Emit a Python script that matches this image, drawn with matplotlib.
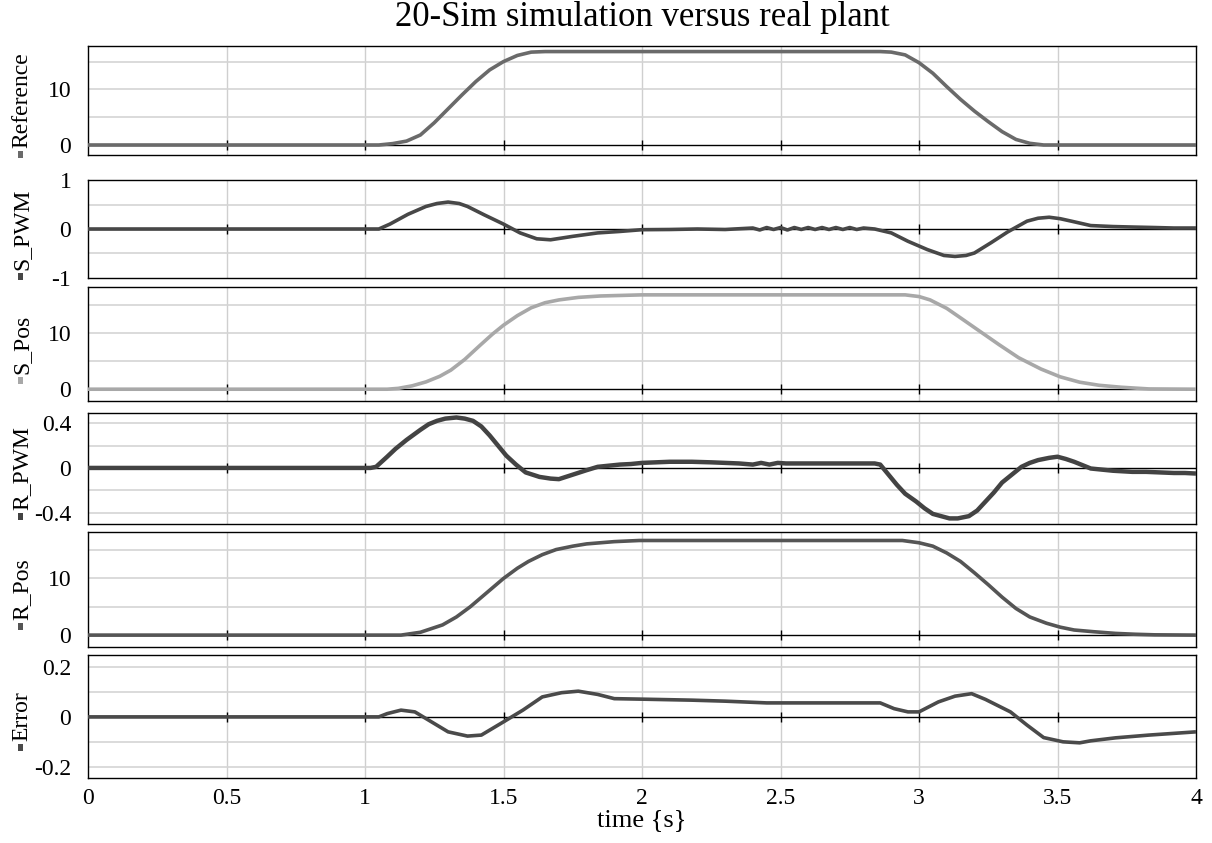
import numpy as np
import matplotlib
matplotlib.use("Agg")
import matplotlib.pyplot as plt
from matplotlib.patches import Rectangle

# ---------------- data ----------------
t_ref = [0.0, 1.00, 1.05, 1.10, 1.15, 1.20, 1.25, 1.30, 1.35, 1.40, 1.45, 1.50, 1.55, 1.60, 1.65,
         2.86, 2.90, 2.95, 3.00, 3.05, 3.10, 3.15, 3.20, 3.25, 3.30, 3.35, 3.40, 3.45, 4.0]
v_ref = [0.0, 0.0, 0.0, 0.25, 0.7, 1.8, 4.0, 6.5, 9.0, 11.4, 13.5, 15.0, 16.1, 16.7, 16.8,
         16.8, 16.7, 16.2, 14.8, 12.9, 10.5, 8.2, 6.1, 4.2, 2.4, 1.0, 0.3, 0.0, 0.0]

t_spwm = [0.0, 1.00, 1.05, 1.09, 1.155, 1.22, 1.26, 1.30, 1.34, 1.37, 1.43, 1.50, 1.56, 1.62, 1.67,
          1.75, 1.84, 1.92, 2.00, 2.10, 2.20, 2.30, 2.40, 2.425, 2.45, 2.475, 2.50, 2.525, 2.55, 2.575,
          2.60, 2.625, 2.65, 2.675, 2.70, 2.725, 2.75, 2.775, 2.80, 2.84, 2.90, 2.96, 3.03, 3.09,
          3.13, 3.17, 3.20, 3.26, 3.32, 3.39, 3.43, 3.47, 3.51, 3.55, 3.62, 3.70, 3.77, 3.85, 3.92, 4.0]
v_spwm = [0.0, 0.0, 0.0, 0.1, 0.3, 0.46, 0.52, 0.55, 0.52, 0.46, 0.29, 0.1, -0.08, -0.2, -0.22,
          -0.15, -0.08, -0.05, -0.014, -0.01, 0.0, -0.01, 0.02, -0.02, 0.03, -0.01, 0.03, -0.02, 0.03, -0.01,
          0.03, -0.01, 0.03, -0.01, 0.03, -0.01, 0.03, -0.01, 0.02, 0.0, -0.08, -0.25, -0.42, -0.54,
          -0.56, -0.54, -0.49, -0.28, -0.06, 0.16, 0.22, 0.24, 0.21, 0.16, 0.07, 0.05, 0.04, 0.03, 0.02, 0.02]

t_spos = [0.0, 1.08, 1.12, 1.17, 1.22, 1.27, 1.31, 1.36, 1.415, 1.46, 1.50, 1.55, 1.60, 1.65, 1.70,
          1.77, 1.85, 2.00, 2.95, 3.00, 3.04, 3.10, 3.15, 3.22, 3.29, 3.36, 3.44, 3.51, 3.58, 3.65,
          3.73, 3.83, 4.0]
v_spos = [0.0, 0.0, 0.15, 0.6, 1.3, 2.3, 3.4, 5.3, 7.8, 9.8, 11.4, 13.1, 14.5, 15.4, 15.9,
          16.35, 16.6, 16.8, 16.8, 16.5, 15.9, 14.4, 12.7, 10.3, 7.9, 5.6, 3.6, 2.2, 1.25, 0.7,
          0.35, 0.05, 0.0]

t_rpwm = [0.0, 1.02, 1.04, 1.08, 1.11, 1.15, 1.20, 1.23, 1.26, 1.29, 1.33, 1.36, 1.39, 1.42,
          1.45, 1.48, 1.51, 1.545, 1.58, 1.63, 1.67, 1.70, 1.75, 1.80, 1.84, 1.88, 1.92, 1.96,
          2.00, 2.05, 2.10, 2.18, 2.25, 2.30, 2.35, 2.40, 2.43, 2.46, 2.49, 2.52, 2.84, 2.86,
          2.89, 2.92, 2.95, 2.99, 3.02, 3.05, 3.08, 3.11, 3.14, 3.18, 3.21, 3.24, 3.27, 3.30,
          3.34, 3.37, 3.40, 3.43, 3.47, 3.50, 3.53, 3.56, 3.59, 3.62, 3.66, 3.70, 3.77, 3.82,
          3.87, 3.92, 3.96, 4.0]
v_rpwm = [0.0, 0.0, 0.01, 0.1, 0.17, 0.25, 0.34, 0.39, 0.42, 0.44, 0.45, 0.44, 0.42, 0.37,
          0.29, 0.2, 0.11, 0.03, -0.04, -0.08, -0.095, -0.10, -0.06, -0.02, 0.01, 0.02, 0.03, 0.035,
          0.045, 0.05, 0.055, 0.055, 0.05, 0.045, 0.04, 0.03, 0.045, 0.03, 0.045, 0.04, 0.04, 0.03,
          -0.06, -0.15, -0.23, -0.30, -0.36, -0.41, -0.43, -0.45, -0.45, -0.43, -0.38, -0.30, -0.22, -0.13,
          -0.05, 0.01, 0.045, 0.07, 0.09, 0.10, 0.08, 0.055, 0.025, -0.005, -0.015, -0.025, -0.035, -0.035,
          -0.04, -0.045, -0.045, -0.05]

t_rpos = [0.0, 1.13, 1.20, 1.28, 1.33, 1.38, 1.44, 1.50, 1.55, 1.59, 1.64, 1.69, 1.75, 1.80,
          1.90, 1.99, 2.94, 3.00, 3.05, 3.10, 3.15, 3.20, 3.25, 3.30, 3.35, 3.40, 3.46, 3.51,
          3.56, 3.63, 3.71, 3.78, 3.85, 4.0]
v_rpos = [0.0, 0.0, 0.5, 1.8, 3.2, 5.0, 7.5, 10.0, 11.8, 13.0, 14.2, 15.1, 15.7, 16.1,
          16.5, 16.7, 16.7, 16.3, 15.7, 14.5, 13.0, 11.0, 8.9, 6.7, 4.7, 3.2, 2.1, 1.4,
          0.9, 0.6, 0.3, 0.15, 0.05, 0.0]

t_err = [0.0, 1.05, 1.08, 1.13, 1.18, 1.24, 1.30, 1.37, 1.42, 1.50, 1.57, 1.64, 1.71, 1.77,
         1.84, 1.90, 2.00, 2.18, 2.30, 2.45, 2.86, 2.91, 2.96, 3.00, 3.07, 3.13, 3.19, 3.24,
         3.33, 3.39, 3.45, 3.52, 3.58, 3.62, 3.71, 3.83, 4.0]
v_err = [0.0, 0.0, 0.013, 0.027, 0.02, -0.02, -0.06, -0.077, -0.073, -0.02, 0.027, 0.08, 0.097, 0.103,
         0.09, 0.073, 0.071, 0.067, 0.063, 0.056, 0.056, 0.033, 0.02, 0.02, 0.06, 0.083, 0.093, 0.07,
         0.02, -0.033, -0.083, -0.1, -0.104, -0.096, -0.084, -0.073, -0.06]

names = ["Reference", "S_PWM", "S_Pos", "R_PWM", "R_Pos", "Error"]
series_t = [t_ref, t_spwm, t_spos, t_rpwm, t_rpos, t_err]
series_v = [v_ref, v_spwm, v_spos, v_rpwm, v_rpos, v_err]
colors = ["#6a6a6a", "#474747", "#a8a8a8", "#434343", "#555555", "#4a4a4a"]

ylims = [(-1.8, 17.8), (-1.0, 1.0), (-2.1, 18.2), (-0.5, 0.49), (-2.1, 18.2), (-0.245, 0.248)]
ytick_vals = [[0, 10], [1, 0, -1], [0, 10], [0.4, 0, -0.4], [0, 10], [0.2, 0, -0.2]]
ytick_txt = [["0", "10"], ["1", "0", "-1"], ["0", "10"], ["0.4", "0", "-0.4"], ["0", "10"], ["0.2", "0", "-0.2"]]
ygrid_vals = [[5, 10, 15], [-0.5, 0.5], [5, 10, 15], [-0.4, -0.2, 0.2, 0.4], [5, 10, 15], [-0.2, -0.1, 0.1, 0.2]]

xticks = [0, 0.5, 1, 1.5, 2, 2.5, 3, 3.5, 4]
xtick_txt = ["0", "0.5", "1", "1.5", "2", "2.5", "3", "3.5", "4"]

# panel extents in pixels (top, bottom)
W, H = 1212, 843
panels = [(46, 155), (180, 278), (287, 401), (413, 524), (532, 647), (655, 778)]
ax_left, ax_right = 88, 1196

plt.rcParams["font.family"] = ["Liberation Serif", "DejaVu Serif"]
plt.rcParams["font.size"] = 17
plt.rcParams["axes.unicode_minus"] = False

fig = plt.figure(figsize=(W / 100, H / 100), dpi=100)
axes = []
for i, (top, bot) in enumerate(panels):
    ax = fig.add_axes([ax_left / W, 1 - bot / H, (ax_right - ax_left) / W, (bot - top) / H])
    axes.append(ax)
    ax.set_xlim(0, 4)
    ax.set_ylim(*ylims[i])
    # grid
    for gx in xticks[1:-1]:
        ax.axvline(gx, color="#cfcfcf", lw=1.0, zorder=0)
    for gy in ygrid_vals[i]:
        ax.axhline(gy, color="#d4d4d4", lw=1.2, zorder=0)
    # zero axis with small ticks
    ax.axhline(0, color="black", lw=1.0, zorder=1)
    ax.plot(xticks[1:-1], [0] * len(xticks[1:-1]), ls="none", marker="|", ms=7, mew=1.0,
            color="black", zorder=1)
    ax.plot(series_t[i], series_v[i], color=colors[i], lw=3.2 if names[i] == "R_PWM" else 2.6,
            zorder=3, solid_capstyle="butt", solid_joinstyle="round")
    ax.set_yticks(ytick_vals[i], ytick_txt[i])
    ax.tick_params(axis="y", length=0, pad=12, labelsize=17)
    ax.set_xticks(xticks)
    if i < len(panels) - 1:
        ax.tick_params(axis="x", length=0, labelbottom=False)
    else:
        ax.set_xticklabels(xtick_txt)
        ax.tick_params(axis="x", length=0, pad=7, labelsize=17)
        ax.set_xlabel("time {s}", fontsize=19, labelpad=0)
    for sp in ax.spines.values():
        sp.set_color("black")
        sp.set_linewidth(1.0)

fig.text((ax_left + ax_right) / 2 / W, 1 - 18 / H, "20-Sim simulation versus real plant",
         ha="center", va="center", fontsize=25)

# y labels: small colored square + rotated name, centred on each panel
fig.canvas.draw()
renderer = fig.canvas.get_renderer()
for i, (top, bot) in enumerate(panels):
    txt = fig.text(22 / W, 0.5, names[i], rotation=90, ha="center", va="bottom", fontsize=17)
    ext = txt.get_window_extent(renderer)
    sq_h, gap = 7, 3
    total = ext.height + sq_h + gap
    centre = (top + bot) / 2 + 5
    y_bottom = centre + total / 2  # pixel from top
    fig.add_artist(Rectangle((18 / W, 1 - y_bottom / H), 5 / W, sq_h / H,
                             transform=fig.transFigure, color=colors[i], lw=0))
    txt.set_y(1 - (y_bottom - sq_h - gap) / H)

fig.savefig("out.png", dpi=100, facecolor="white")
